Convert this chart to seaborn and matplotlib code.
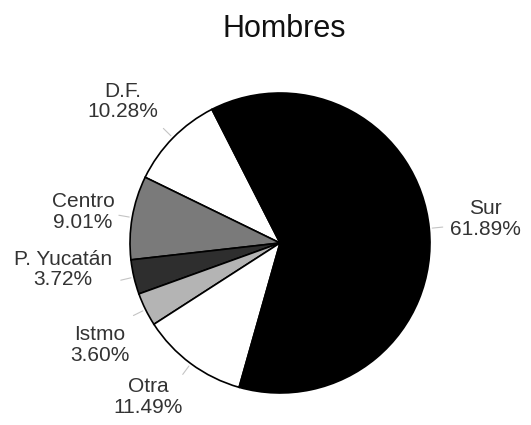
import numpy as np
import matplotlib
matplotlib.use('Agg')
import matplotlib.pyplot as plt
import seaborn as sns

regions = ['D.F.', 'Centro', 'P. Yucatán', 'Istmo', 'Otra', 'Sur']
shares = [10.28, 9.01, 3.72, 3.60, 11.49, 61.89]
colors = ['#ffffff', '#7a7a7a', '#2e2e2e', '#b4b4b4', '#ffffff', '#000000']

# label placement (angle in degrees, distance in radii)
label_angle = [138, 171, 187, 209.5, 229.4, 6.7]
label_dist = [1.41, 1.33, 1.46, 1.38, 1.35, 1.376]

sns.set_theme(style='white')
plt.rcParams['font.family'] = ['Liberation Sans', 'DejaVu Sans']

fig = plt.figure(figsize=(5.31, 4.25), dpi=100)
ax = fig.add_axes([0, 0, 1, 1])

labels = [f'{r}\n{v:.2f}%' for r, v in zip(regions, shares)]
wedges, texts = ax.pie(shares, labels=labels, colors=colors, startangle=117,
                       counterclock=True, labeldistance=1.4,
                       wedgeprops=dict(edgecolor='black', linewidth=1.2),
                       textprops=dict(color='#333333', fontsize=15, linespacing=1.1))

for t, w, a, d in zip(texts, wedges, label_angle, label_dist):
    a = np.deg2rad(a)
    t.set_position((d * np.cos(a), d * np.sin(a)))
    t.set_ha('center')
    t.set_va('center')
    ang = np.deg2rad((w.theta1 + w.theta2) / 2)
    ax.plot([1.02 * np.cos(ang), 1.09 * np.cos(ang)],
            [1.02 * np.sin(ang), 1.09 * np.sin(ang)],
            color='#c4c4c4', lw=0.8)

# 1 unit = 150 px, pie centre at (280, 243) px from top-left
ax.set_xlim(-280 / 150, (531 - 280) / 150)
ax.set_ylim(-(425 - 243) / 150, 243 / 150)
ax.set_aspect('equal')
ax.axis('off')

fig.text(284 / 531, 1 - 29 / 425, 'Hombres', ha='center', va='center',
         fontsize=22, color='#111111')

fig.savefig('out.png', dpi=100)
